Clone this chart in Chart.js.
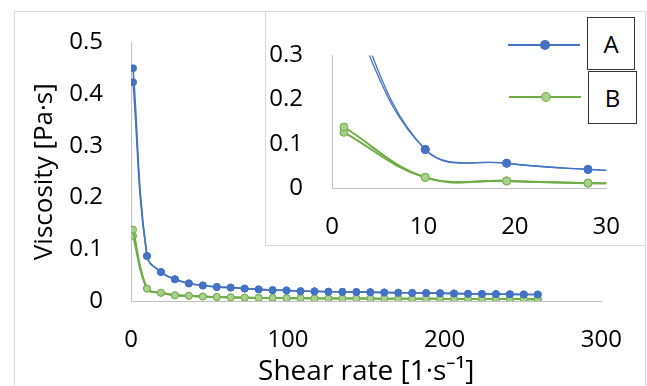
<!DOCTYPE html>
<html>
<head>
<meta charset="utf-8">
<script src="https://cdn.jsdelivr.net/npm/chart.js@4"></script>
<style>
    html, body { margin: 0; padding: 0; background: #fff; }
    body { width: 647px; height: 386px; position: relative; overflow: hidden; font-family: 'Open Sans', sans-serif; }
    .frame { position: absolute; left: 14px; top: 11px; width: 630px; height: 400px; border: 1px solid #d9d9d9; }
    #main-chart { position: absolute; left: 0; top: 0; }
    .inset { position: absolute; left: 265px; top: 11px; width: 379px; height: 233px; border: 1px solid #d9d9d9; background: #fff; }
    #inset-chart { position: absolute; left: 0; top: 0; }
    .leg-line { position: absolute; height: 2px; }
    .leg-dot { position: absolute; border-radius: 50%; box-sizing: border-box; }
    .leg-box { position: absolute; box-sizing: border-box; border: 1.5px solid #333; font-size: 24px; color: #000;
               display: flex; align-items: center; justify-content: center; background: #fff; }
</style>
</head>
<body>
<div class="frame"></div>
<canvas id="main-chart" width="647" height="386"></canvas>
<div class="inset">
    <canvas id="inset-chart" width="379" height="233"></canvas>
    <div class="leg-line" style="left:242px; top:32px; width:72px; background:#4472c4;"></div>
    <div class="leg-dot" style="left:274px; top:28px; width:10px; height:10px; background:#4472c4;"></div>
    <div class="leg-box" style="left:321px; top:5px; width:48px; height:53px;">A</div>
    <div class="leg-line" style="left:243px; top:84px; width:72px; background:#70ad47;"></div>
    <div class="leg-dot" style="left:275px; top:80px; width:10px; height:10px; background:#a9d18e; border:1.5px solid #70ad47;"></div>
    <div class="leg-box" style="left:322px; top:59px; width:49px; height:53px;">B</div>
</div>
<script>
// shear rate [1/s]; the first rate was measured twice
const shearRate = [1.3, 10.2, 19.1, 28, 36.9, 45.8, 54.7, 63.6, 72.5, 81.4, 90.3, 99.2, 108.1, 117,
    125.9, 134.8, 143.7, 152.6, 161.5, 170.4, 179.3, 188.2, 197.1, 206, 214.9, 223.8, 232.7, 241.6, 250.5, 259.4];

// viscosity [Pa·s], two readings at the first shear rate
const firstA = [0.450, 0.423];
const firstB = [0.138, 0.126];

const restA = [0.087, 0.056, 0.042, 0.034, 0.030, 0.027, 0.026, 0.024, 0.0224, 0.021, 0.0205, 0.019, 0.0187,
    0.018, 0.0177, 0.0173, 0.017, 0.0165, 0.016, 0.0157, 0.0153, 0.015, 0.0145, 0.014, 0.0137, 0.0133, 0.013, 0.0127, 0.0125];
const restB = [0.024, 0.016, 0.011, 0.010, 0.0087, 0.0075, 0.007, 0.0065, 0.006, 0.006, 0.0055, 0.0055, 0.005,
    0.005, 0.005, 0.0048, 0.0046, 0.0045, 0.0044, 0.0043, 0.0042, 0.0041, 0.004, 0.004, 0.0039, 0.0038, 0.0037, 0.0036, 0.0035];

const xTicks = [0, 100, 200, 300];
const yTicks = [0, 0.1, 0.2, 0.3, 0.4, 0.5];
const insetXTicks = [0, 10, 20, 30];
const insetYTicks = [0, 0.1, 0.2, 0.3];

const blue = '#4472c4';
const green = '#70ad47';
const greenFill = '#a9d18e';

function series(first, rest) {
    return [{ x: shearRate[0], y: first }].concat(rest.map((v, i) => ({ x: shearRate[i + 1], y: v })));
}

function makeDatasets(blueWidth, greenWidth, radius) {
    const sets = [];
    firstA.forEach(f => sets.push({
        data: series(f, restA), borderColor: blue, backgroundColor: blue, borderWidth: blueWidth,
        pointRadius: radius, pointBorderWidth: 1, pointBackgroundColor: blue, pointBorderColor: blue
    }));
    firstB.forEach(f => sets.push({
        data: series(f, restB), borderColor: green, backgroundColor: greenFill, borderWidth: greenWidth,
        pointRadius: radius, pointBorderWidth: 1, pointBackgroundColor: greenFill, pointBorderColor: green
    }));
    sets.forEach(s => { s.showLine = true; s.tension = 0.4; s.pointHoverRadius = s.pointRadius; });
    return sets;
}

function axis(ticksList, fontSize, pad, extra) {
    return Object.assign({
        type: 'linear',
        min: ticksList[0],
        max: ticksList[ticksList.length - 1],
        grid: { display: false, drawTicks: false },
        border: { display: true, color: '#bfbfbf', width: 1 },
        afterBuildTicks: s => { s.ticks = ticksList.map(v => ({ value: v })); },
        ticks: {
            padding: pad,
            color: '#000',
            font: { family: 'Open Sans', size: fontSize },
            callback: v => String(+v.toFixed(1))
        }
    }, extra);
}

const common = {
    responsive: false,
    animation: false,
    plugins: { legend: { display: false }, tooltip: { enabled: false } },
    elements: { line: { capBezierPoints: false } }
};

new Chart(document.getElementById('main-chart'), {
    type: 'scatter',
    data: { datasets: makeDatasets(1.6, 2, 3.5) },
    options: Object.assign({}, common, {
        layout: { padding: { left: 20, right: 40, top: 33, bottom: 0 } },
        scales: {
            x: axis(xTicks, 24, 25, {
                afterFit: s => { s.height = 85; },
                title: { display: true, text: 'Shear rate [1·s⁻¹]', color: '#000',
                         font: { family: 'Open Sans', size: 28 }, padding: { top: 0, bottom: -3 } }
            }),
            y: axis(yTicks, 24, 28, {
                afterFit: s => { s.width = 111; },
                title: { display: true, text: 'Viscosity [Pa·s]', color: '#000',
                         font: { family: 'Open Sans', size: 26 }, padding: { top: 9, bottom: 0 } }
            })
        }
    })
});

new Chart(document.getElementById('inset-chart'), {
    type: 'scatter',
    data: { datasets: makeDatasets(1.3, 2, 4) },
    options: Object.assign({}, common, {
        layout: { padding: { left: 0, right: 38, top: 21, bottom: 0 } },
        scales: {
            x: axis(insetXTicks, 24, 25, { afterFit: s => { s.height = 57; } }),
            y: axis(insetYTicks, 24, 29, { afterFit: s => { s.width = 66; } })
        }
    })
});
</script>
</body>
</html>
